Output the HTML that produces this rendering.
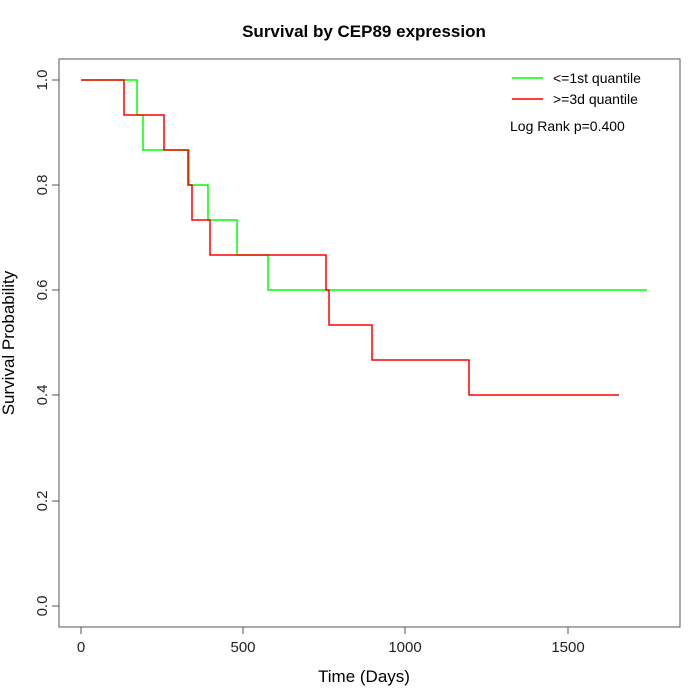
<!DOCTYPE html><html><head><style>body{margin:0;background:#fff}svg{display:block}text{font-family:"Liberation Sans",sans-serif}</style></head><body>
<svg width="700" height="700" xmlns="http://www.w3.org/2000/svg">
<rect x="59" y="59" width="621" height="568" fill="none" stroke="#555" stroke-width="1"/>
<text x="364" y="37" text-anchor="middle" font-size="17" font-weight="bold">Survival by CEP89 expression</text>
<g stroke="#555"><line x1="81" y1="627" x2="568" y2="627"/>
<line x1="81" y1="627" x2="81" y2="634"/><line x1="243" y1="627" x2="243" y2="634"/><line x1="405" y1="627" x2="405" y2="634"/><line x1="568" y1="627" x2="568" y2="634"/>
<line x1="59" y1="80" x2="59" y2="606"/>
<line x1="52" y1="80" x2="59" y2="80"/><line x1="52" y1="185" x2="59" y2="185"/><line x1="52" y1="290" x2="59" y2="290"/><line x1="52" y1="395" x2="59" y2="395"/><line x1="52" y1="501" x2="59" y2="501"/><line x1="52" y1="606" x2="59" y2="606"/></g>
<g font-size="15" text-anchor="middle" fill="#222"><text x="81" y="652">0</text><text x="243" y="652">500</text><text x="405" y="652">1000</text><text x="568" y="652">1500</text></g>
<g font-size="15" text-anchor="middle" fill="#222">
<text transform="translate(42,80) rotate(-90)" y="5">1.0</text><text transform="translate(42,185) rotate(-90)" y="5">0.8</text><text transform="translate(42,290) rotate(-90)" y="5">0.6</text><text transform="translate(42,395) rotate(-90)" y="5">0.4</text><text transform="translate(42,501) rotate(-90)" y="5">0.2</text><text transform="translate(42,606) rotate(-90)" y="5">0.0</text></g>
<text x="364" y="682" text-anchor="middle" font-size="17">Time (Days)</text>
<text transform="translate(14,343) rotate(-90)" text-anchor="middle" font-size="17">Survival Probability</text>
<polyline fill="none" stroke="#00ff00" stroke-width="1.5" points="81,80 137,80 137,115 143,115 143,150 189,150 189,185 208,185 208,220 237,220 237,255 268,255 268,290 647,290"/>
<polyline fill="none" stroke="#ff0000" stroke-width="1.5" points="81,80 124,80 124,115 164,115 164,150 188,150 188,185 192,185 192,220 210,220 210,255 326,255 326,290 329,290 329,325 372,325 372,360 469,360 469,395 619,395"/>
<line x1="512" y1="78" x2="543" y2="78" stroke="#00ff00" stroke-width="1.5"/>
<line x1="512" y1="99" x2="543" y2="99" stroke="#ff0000" stroke-width="1.5"/>
<text x="553" y="83" font-size="14">&lt;=1st quantile</text>
<text x="553" y="104" font-size="14">&gt;=3d quantile</text>
<text x="510" y="131" font-size="14">Log Rank p=0.400</text>
</svg></body></html>
